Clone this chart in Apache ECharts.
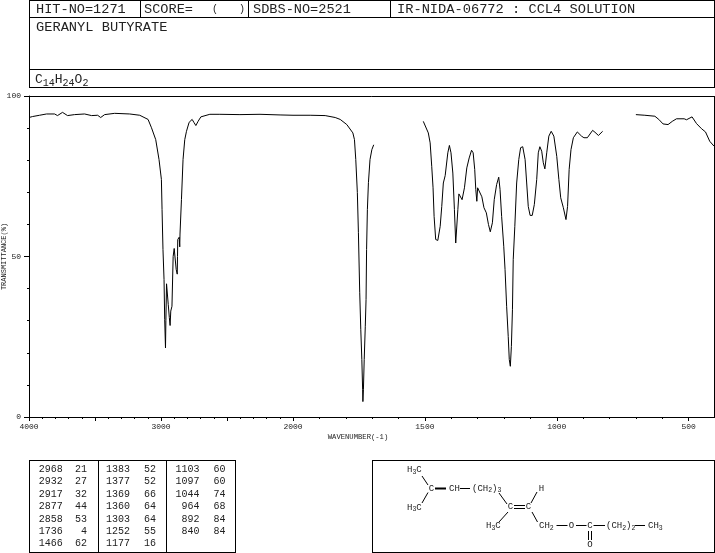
<!DOCTYPE html>
<html><head><meta charset="utf-8">
<style>html,body{margin:0;padding:0;background:#fff}#c{width:715px;height:553px}</style>
<script src="https://cdn.jsdelivr.net/npm/echarts@6/dist/echarts.min.js"></script>
</head><body><div id="c"></div>
<script>
// Spectrum: wavenumber (cm-1) and transmittance (%)
const highWn = [4000,3973,3920,3867,3806,3784,3746,3708,3655,3579,3526,3480,3457,3427,3351,3237,3161,3098,3072,3040,3015,2997,2992,2985,2977,2972,2966,2963,2958,2950,2945,2937,2931,2926,2917,2908,2900,2892,2885,2877,2875,2873,2862,2858,2856,2845,2833,2820,2807,2787,2764,2751,2736,2719,2698,2630,2554,2402,2250,2098,2000];
const highT  = [93.3,93.6,94.0,94.4,94.4,93.9,94.9,93.9,94.2,94.4,93.9,94.0,93.3,94.2,94.6,94.4,94.0,92.7,90.1,86.4,80.2,74.0,64.6,52.2,42.8,30.3,21.5,30,41.5,41.5,35,31,28.5,33,34.5,50,52.5,53,46,44.5,50,55.3,56,53,57,67.8,80.2,86.4,89,91.8,92.7,91.8,90.8,92.1,93.5,94.3,94.3,94.2,94.3,94.1,94.0];
const carbonylWn = [2000,1935,1878,1840,1821,1796,1773,1767,1762,1756,1752,1747,1743,1739,1736,1735,1733,1730,1726,1723,1721,1718,1714,1708,1701,1694];
const carbonylT  = [94.0,94.0,93.9,93.3,92.7,91.1,88.5,86.4,80.2,69.9,57.4,38.7,27.2,17.9,8.5,4.8,8.5,17.9,28.1,36.6,52.2,64.6,73,80.2,83.3,84.8];
const fingerWn = [1506,1487,1480,1474,1469,1465,1459,1451,1442,1436,1430,1423,1419,1413,1407,1401,1394,1388,1383,1380,1378,1375,1371,1366,1359,1350,1341,1332,1323,1317,1311,1307,1303,1300,1293,1284,1276,1267,1259,1252,1244,1237,1228,1220,1215,1209,1201,1196,1190,1184,1180,1176,1172,1168,1165,1159,1152,1144,1137,1129,1120,1114,1108,1101,1093,1085,1076,1070,1064,1057,1051,1045,1038,1030,1021,1011,1000,992,985,975,965,959,953,946,937,922,906,897,884,864,855,842,826];
const fingerT  = [92.1,88.5,85.4,78.1,71.4,62.5,55.3,55,59.4,65.6,72.9,75.2,75.2,82.3,84.6,82.3,76,64.6,54.2,54,54.2,64.6,69.5,69.3,67.7,71.4,77.6,80.7,83.1,82.3,77.1,70.9,67.2,71.4,71.9,68.6,65.2,63.6,60,57.7,60.5,67.7,72.4,74.7,70.9,62.5,53.2,45.9,34.5,25.1,17.9,15.8,22,33.4,49,59.4,72.9,80.2,83.9,84.2,80.2,72.9,65.6,62.8,62.8,66.2,74,82.3,84.2,82.8,79.2,77.3,82.3,87.5,89,87.5,81.2,74,68.3,65.2,61.5,65.6,77.1,83.3,87,88.8,87.5,87,87,89.3,88.7,87.7,89];
const farWn = [700,666,628,613,597,578,562,546,517,508,487,470,451,436,420,404];
const farT  = [94.2,94,93.7,92.7,91.3,91.1,92.1,92.9,92.9,92.6,93.5,91.4,89.8,88.8,85.9,84.4];

// Header texts
const hitText = 'HIT-NO=1271';
const scoreText = 'SCORE=';
const sdbsText = 'SDBS-NO=2521';
const irText = 'IR-NIDA-06772 : CCL4 SOLUTION';
const compoundName = 'GERANYL BUTYRATE';

// Peak table, three columns
const peakWn1 = ['2968','2932','2917','2877','2858','1736','1466'];
const peakT1  = ['21','27','32','44','53','4','62'];
const peakWn2 = ['1383','1377','1369','1360','1303','1252','1177'];
const peakT2  = ['52','52','66','64','64','55','16'];
const peakWn3 = ['1103','1097','1044','964','892','840'];
const peakT3  = ['60','60','74','68','84','84'];

const MONO = '"Liberation Mono","DejaVu Sans Mono",monospace';
const INK = '#000';
const TXT = '#222';
const g = [];
function line(x1,y1,x2,y2,w){g.push({type:'line',silent:true,shape:{x1,y1,x2,y2},style:{stroke:INK,lineWidth:w||1}});}
function text(x,y,t,size,align){
  g.push({type:'text',silent:true,x,y,style:{text:t,font:(size||10)+'px '+MONO,fill:TXT,align:align||'left',verticalAlign:'middle'}});
}
function rich(x,y,t,size,sub,align){
  g.push({type:'text',silent:true,x,y,style:{text:t,font:size+'px '+MONO,fill:TXT,align:align||'left',verticalAlign:'middle',
    rich:{a:{font:size+'px '+MONO,fill:TXT},b:{font:sub+'px '+MONO,fill:TXT,verticalAlign:'bottom',padding:[Math.round(size*0.45),0,0,0]}}}});
}

// Header frame
line(29.5,0.5,714.5,0.5); line(29.5,87.5,714.5,87.5); line(29.5,17.5,714.5,17.5); line(29.5,69.5,714.5,69.5);
line(29.5,0,29.5,88); line(714.5,0,714.5,88);
line(140.5,0,140.5,17); line(248.5,0,248.5,17); line(390.5,0,390.5,17);
text(36,9.5,hitText,13.6); text(144,9.5,scoreText,13.6); text(212,9.5,'(',10); text(239,9.5,')',10);
text(253,9.5,sdbsText,13.6); text(397,9.5,irText,13.7); text(36,27,compoundName,13.7);
rich(35,80,'{a|C}{b|14}{a|H}{b|24}{a|O}{b|2}',13,10);

// Plot frame (top and right)
line(29,96.5,714.5,96.5); line(714.5,96,714.5,417.5);
text(358,437,'WAVENUMBER(-1)',7.2,'center');

// Peak table
line(29.5,460.5,235.5,460.5); line(29.5,552.5,235.5,552.5);
line(29.5,460,29.5,553); line(98.5,460,98.5,553); line(166.5,460,166.5,553); line(235.5,460,235.5,553);
const cols=[[peakWn1,peakT1,62.7,87],[peakWn2,peakT2,130,156],[peakWn3,peakT3,199.5,225.5]];
cols.forEach(c=>{c[0].forEach((v,i)=>{const y=469.3+i*12.4;text(c[2],y,v,10,'right');text(c[3],y,c[1][i],10,'right');});});

// Structure box
line(372.5,460.5,714.5,460.5); line(372.5,552.5,714.5,552.5); line(372.5,460,372.5,553); line(714.5,460,714.5,553);
const S=9, s=6.5;
rich(407,470,'{a|H}{b|3}{a|C}',S,s); rich(407,507.5,'{a|H}{b|3}{a|C}',S,s);
line(422,476,428,485); line(428,492.5,422,503);
text(431.5,488.5,'C',S,'center'); line(435,488.5,446,488.5,2);
text(454.5,488.5,'CH',S,'center'); line(460,488.5,470,488.5);
rich(472,488.5,'{a|(CH}{b|2}{a|)}{b|3}',S,s);
line(499,493,507,504); text(510.5,507,'C',S,'center');
line(514,505.5,525,505.5); line(514,508.5,525,508.5); text(528.5,507,'C',S,'center');
line(537,492,531,503); text(541.5,488.5,'H',S,'center');
line(508,512,499,522); rich(486,526,'{a|H}{b|3}{a|C}',S,s);
line(532,512,537.5,522); rich(539,526,'{a|CH}{b|2}',S,s);
line(556.5,525.5,567.5,525.5); text(571.5,525.5,'O',S,'center'); line(576,525.5,586.5,525.5);
text(590,525.5,'C',S,'center'); line(593.5,525.5,605,525.5);
rich(606,526,'{a|(CH}{b|2}{a|)}{b|2}',S,s); line(635,525.5,645,525.5); rich(648,526,'{a|CH}{b|3}',S,s);
line(588.5,531,588.5,540); line(591.5,531,591.5,540); text(590,545,'O',S,'center');

const zip=(a,b)=>a.map((v,i)=>[v,b[i]]);
const mk=(name,xi,wn,t)=>({name,type:'line',xAxisIndex:xi,yAxisIndex:xi===0?0:1,data:zip(wn,t),showSymbol:false,symbol:'none',silent:true,
  lineStyle:{color:INK,width:1},itemStyle:{color:INK},animation:false,clip:false});
const axLine={show:true,onZero:false,lineStyle:{color:INK,width:1}};
const labelStyle={fontFamily:MONO,fontSize:8,color:TXT};

const chart=echarts.init(document.getElementById('c'),null,{renderer:'canvas'});
chart.setOption({
  animation:false,backgroundColor:'#fff',
  grid:[{left:29,top:96,width:264,height:321,outerBoundsMode:'none'},{left:293,top:96,width:422,height:321,outerBoundsMode:'none'}],
  xAxis:[
    {type:'value',gridIndex:0,inverse:true,min:2000,max:4000,interval:500,position:'bottom',axisLine:axLine,splitLine:{show:false},
     axisTick:{show:true,length:4,lineStyle:{color:INK}},minorTick:{show:true,splitNumber:5,length:2,lineStyle:{color:INK}},
     axisLabel:{...labelStyle,margin:6,showMaxLabel:true,showMinLabel:true,formatter:v=>v%1000===0?String(v):''}},
    {type:'value',gridIndex:1,inverse:true,min:400,max:2000,interval:100,position:'bottom',axisLine:axLine,splitLine:{show:false},
     axisTick:{show:true,length:2,lineStyle:{color:INK}},axisLabel:{show:false}},
    {type:'value',gridIndex:1,inverse:true,min:400,max:2000,position:'bottom',axisLine:{show:false},splitLine:{show:false},
     axisTick:{show:true,length:4,customValues:[500,1000,1500],lineStyle:{color:INK}},
     axisLabel:{...labelStyle,margin:6,customValues:[500,1000,1500],formatter:v=>String(v)}}
  ],
  yAxis:[
    {type:'value',gridIndex:0,min:0,max:100,interval:50,position:'left',axisLine:axLine,splitLine:{show:false},
     axisTick:{show:true,length:5,lineStyle:{color:INK}},minorTick:{show:true,splitNumber:5,length:2,lineStyle:{color:INK}},
     axisLabel:{...labelStyle,margin:8},
     name:'TRANSMITTANCE(%)',nameLocation:'middle',nameRotate:90,nameGap:21,nameMoveOverlap:false,nameTextStyle:{fontFamily:MONO,fontSize:7,color:TXT}},
    {type:'value',gridIndex:1,min:0,max:100,show:false,splitLine:{show:false}}
  ],
  series:[
    mk('High wavenumber',0,highWn,highT),
    mk('Carbonyl',1,carbonylWn,carbonylT),
    mk('Fingerprint',1,fingerWn,fingerT),
    mk('Far',1,farWn,farT)
  ],
  graphic:{elements:g}
});
</script></body></html>
